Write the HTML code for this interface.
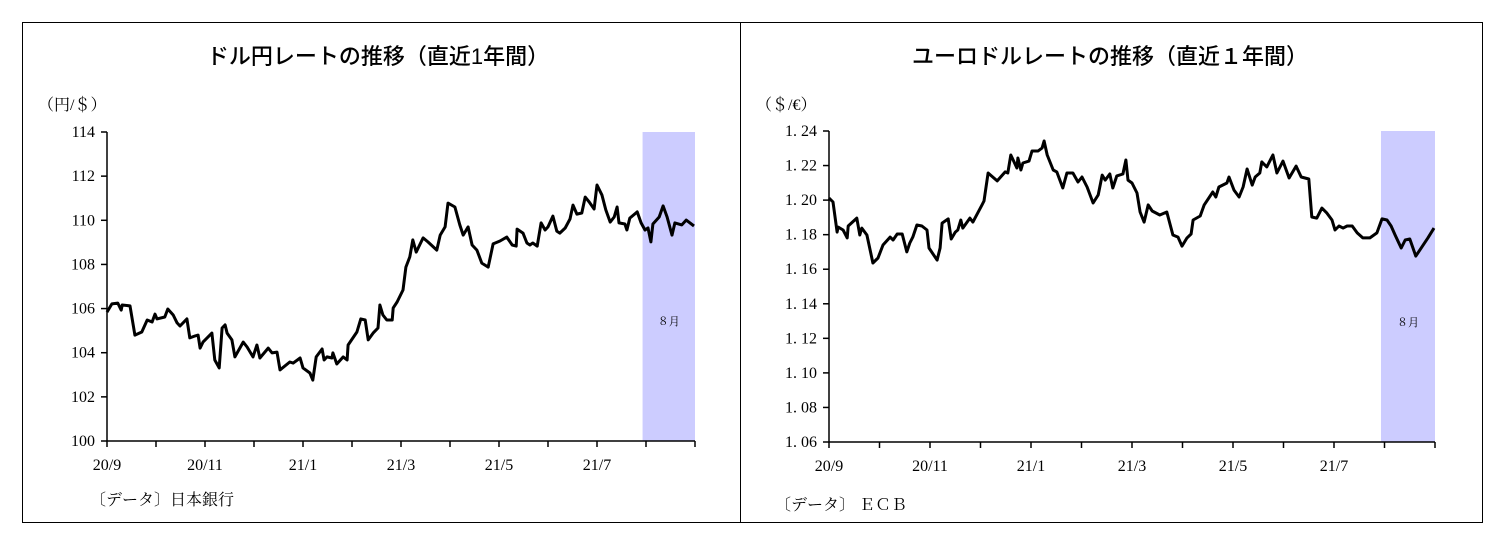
<!DOCTYPE html>
<html><head><meta charset="utf-8"><style>
html,body{margin:0;padding:0;background:#fff;}
svg{display:block;}
.t{font-family:"Liberation Sans","Noto Sans CJK JP",sans-serif;font-size:22px;font-weight:500;fill:#000;}
.s{font-family:"Liberation Serif","Noto Serif CJK SC",serif;font-size:16px;fill:#000;}
.m{font-family:"Liberation Serif","Noto Serif CJK SC",serif;font-size:11px;fill:#000;}
</style></head><body>
<svg id="svg" width="1503" height="538">
<rect x="22.5" y="22.5" width="1460" height="500" fill="none" stroke="#000" stroke-width="1"/>
<line x1="740.5" y1="22" x2="740.5" y2="522" stroke="#000"/>
<text class="t" x="378" y="64" text-anchor="middle">ドル円レートの推移（直近1年間）</text>
<text class="t" x="1110" y="64" text-anchor="middle">ユーロドルレートの推移（直近１年間）</text>
<text class="s" x="38" y="110">（円/＄）</text>
<text class="s" x="756" y="110">（＄/€）</text>
<text class="s" x="90" y="505" font-size="17">〔データ〕日本銀行</text>
<text class="s" x="775" y="510" font-size="17">〔データ〕 ＥＣＢ</text>
<g id="left"></g>
<g id="right"></g>
</svg>
<script>
const xTickLabels=["20/9","20/11","21/1","21/3","21/5","21/7"];
const yenTicks=[100,102,104,106,108,110,112,114];
const eurTicks=[1.06,1.08,1.10,1.12,1.14,1.16,1.18,1.20,1.22,1.24];
const highlightStart=10.93, highlightEnd=12;
const yenMonths=[0,.10,.22,.29,.31,.47,.57,.71,.82,.92,.98,1.02,1.18,1.24,1.35,1.43,1.49,1.63,1.69,1.80,1.86,1.90,1.96,2.14,2.20,2.29,2.35,2.41,2.45,2.55,2.61,2.78,2.86,2.98,3.06,3.12,3.29,3.37,3.47,3.53,3.73,3.80,3.94,4.00,4.14,4.20,4.27,4.39,4.43,4.49,4.59,4.61,4.69,4.82,4.90,4.92,5.10,5.18,5.27,5.33,5.43,5.53,5.57,5.63,5.71,5.82,5.84,5.92,6.04,6.10,6.18,6.24,6.31,6.45,6.55,6.73,6.80,6.90,6.96,7.10,7.20,7.27,7.37,7.45,7.55,7.65,7.78,7.88,8.02,8.16,8.27,8.35,8.37,8.49,8.57,8.63,8.69,8.78,8.86,8.94,9.00,9.10,9.18,9.24,9.35,9.45,9.51,9.59,9.69,9.76,9.84,9.94,10.00,10.10,10.18,10.27,10.35,10.41,10.45,10.57,10.61,10.67,10.82,10.90,10.98,11.04,11.10,11.14,11.27,11.35,11.43,11.53,11.59,11.73,11.82,11.98];
const yenValues=[105.84,106.21,106.25,105.93,106.16,106.12,104.80,104.94,105.48,105.39,105.75,105.53,105.62,105.98,105.71,105.35,105.21,105.53,104.67,104.76,104.80,104.21,104.48,104.89,103.67,103.31,105.12,105.26,104.89,104.58,103.81,104.48,104.26,103.81,104.35,103.76,104.21,103.99,104.03,103.22,103.58,103.53,103.76,103.31,103.08,102.76,103.81,104.17,103.67,103.81,103.76,103.99,103.49,103.81,103.67,104.35,104.94,105.53,105.48,104.58,104.89,105.12,106.16,105.71,105.48,105.48,106.03,106.30,106.84,107.88,108.34,109.11,108.56,109.20,109.02,108.65,109.33,109.70,110.78,110.60,109.79,109.33,109.70,108.88,108.65,108.06,107.88,108.93,109.06,109.24,108.88,108.83,109.60,109.42,108.97,108.88,108.97,108.83,109.88,109.56,109.70,110.19,109.51,109.42,109.65,110.06,110.69,110.28,110.33,111.05,110.83,110.51,111.60,111.15,110.47,109.92,110.15,110.60,109.88,109.83,109.56,110.10,110.38,109.88,109.56,109.65,109.02,109.83,110.15,110.65,110.15,109.33,109.88,109.79,110.01,109.74];
const eurMonths=[0,.08,.16,.18,.28,.36,.38,.55,.61,.65,.75,.87,.97,1.07,1.21,1.27,1.35,1.45,1.54,1.60,1.66,1.74,1.84,1.94,1.98,2.14,2.20,2.24,2.36,2.42,2.50,2.55,2.61,2.65,2.79,2.85,3.03,3.07,3.15,3.33,3.49,3.54,3.60,3.72,3.74,3.80,3.84,3.96,4.02,4.14,4.22,4.26,4.32,4.44,4.51,4.63,4.71,4.83,4.93,5.01,5.11,5.23,5.33,5.41,5.47,5.56,5.62,5.70,5.82,5.88,5.92,6.00,6.10,6.16,6.24,6.32,6.40,6.55,6.69,6.81,6.91,6.99,7.09,7.17,7.21,7.35,7.43,7.60,7.66,7.72,7.88,7.92,8.02,8.12,8.20,8.28,8.38,8.44,8.53,8.57,8.67,8.79,8.87,8.99,9.11,9.25,9.35,9.50,9.56,9.66,9.76,9.86,9.96,10.02,10.10,10.18,10.26,10.36,10.46,10.57,10.71,10.85,10.95,11.05,11.13,11.21,11.33,11.41,11.50,11.62,11.74,11.86,11.98];
const eurValues=[1.2012,1.1989,1.1815,1.1844,1.1827,1.1781,1.1850,1.1896,1.1798,1.1838,1.1798,1.1636,1.1665,1.1740,1.1786,1.1769,1.1804,1.1804,1.1700,1.1752,1.1786,1.1856,1.1850,1.1827,1.1723,1.1653,1.1723,1.1867,1.1891,1.1775,1.1815,1.1827,1.1885,1.1838,1.1896,1.1873,1.1972,1.1995,1.2157,1.2111,1.2163,1.2157,1.2261,1.2186,1.2244,1.2174,1.2215,1.2226,1.2284,1.2284,1.2302,1.2342,1.2261,1.2174,1.2163,1.2070,1.2157,1.2157,1.2105,1.2134,1.2076,1.1983,1.2030,1.2145,1.2116,1.2151,1.2070,1.2140,1.2151,1.2232,1.2116,1.2099,1.2041,1.1931,1.1873,1.1972,1.1937,1.1914,1.1931,1.1798,1.1786,1.1734,1.1781,1.1804,1.1885,1.1908,1.1972,1.2047,1.2018,1.2076,1.2099,1.2134,1.2058,1.2018,1.2076,1.2180,1.2087,1.2134,1.2157,1.2221,1.2192,1.2261,1.2157,1.2226,1.2128,1.2197,1.2134,1.2122,1.1902,1.1896,1.1954,1.1925,1.1885,1.1827,1.1850,1.1838,1.1850,1.1850,1.1810,1.1781,1.1781,1.1810,1.1891,1.1885,1.1850,1.1798,1.1723,1.1769,1.1775,1.1676,1.1729,1.1781,1.1838];
const NS="http://www.w3.org/2000/svg";
function mk(tag,attrs,parent){const e=document.createElementNS(NS,tag);for(const k in attrs)e.setAttribute(k,attrs[k]);parent.appendChild(e);return e;}
function draw(g,cfg){
  const xS=m=>cfg.x0+(cfg.x1-cfg.x0)*m/12;
  const yS=v=>cfg.y1-(cfg.y1-cfg.y0)*(v-cfg.vmin)/(cfg.vmax-cfg.vmin);
  const hl=mk('rect',{x:xS(highlightStart),y:yS(cfg.vmax),width:xS(highlightEnd)-xS(highlightStart),height:yS(cfg.vmin)-yS(cfg.vmax),fill:'#ccccff'},g);
  
  
  const hlt=mk('text',{x:(xS(highlightStart)+xS(highlightEnd))/2,y:yS(cfg.vmin)-116,'text-anchor':'middle',class:'m'},g);
  hlt.textContent='８月';
  
  
  const ax=mk('path',{d:`M${cfg.x0},${yS(cfg.vmax)}V${yS(cfg.vmin)}H${cfg.x1}`,fill:'none',stroke:'#000','stroke-width':1.5},g);
  
  
  cfg.ticks.forEach(v=>{
    const tk=mk('line',{x1:cfg.x0-6,x2:cfg.x0,y1:yS(v),y2:yS(v),stroke:'#000','stroke-width':1.5},g);
    
    
    const tl=mk('text',{x:cfg.x0-12,y:yS(v)+5,'text-anchor':'end',class:'s'},g);
    tl.textContent=cfg.fmt(v);
    
    
  });
  for(let m=0;m<=12;m++){
    const tk=mk('line',{x1:xS(m),x2:xS(m),y1:yS(cfg.vmin),y2:yS(cfg.vmin)+6,stroke:'#000','stroke-width':1.5},g);
    
    
  }
  xTickLabels.forEach((l,i)=>{
    const tl=mk('text',{x:xS(i*2),y:yS(cfg.vmin)+29,'text-anchor':'middle',class:'s'},g);
    tl.textContent=l;
    
    
  });
  const d=cfg.months.map((m,i)=>(i?'L':'M')+xS(m).toFixed(1)+','+yS(cfg.values[i]).toFixed(1)).join('');
  const p=mk('path',{d:d,fill:'none',stroke:'#000','stroke-width':3,'stroke-linejoin':'round'},g);
  
  
}
draw(document.getElementById('left'),{x0:107,x1:695,y0:132,y1:441,vmin:100,vmax:114,ticks:yenTicks,fmt:v=>String(v),months:yenMonths,values:yenValues,name:'usd-jpy-line'});
draw(document.getElementById('right'),{x0:829,x1:1435,y0:131,y1:442,vmin:1.06,vmax:1.24,ticks:eurTicks,fmt:v=>v.toFixed(2).replace('.','. '),months:eurMonths,values:eurValues,name:'eur-usd-line'});
</script>
</body></html>
